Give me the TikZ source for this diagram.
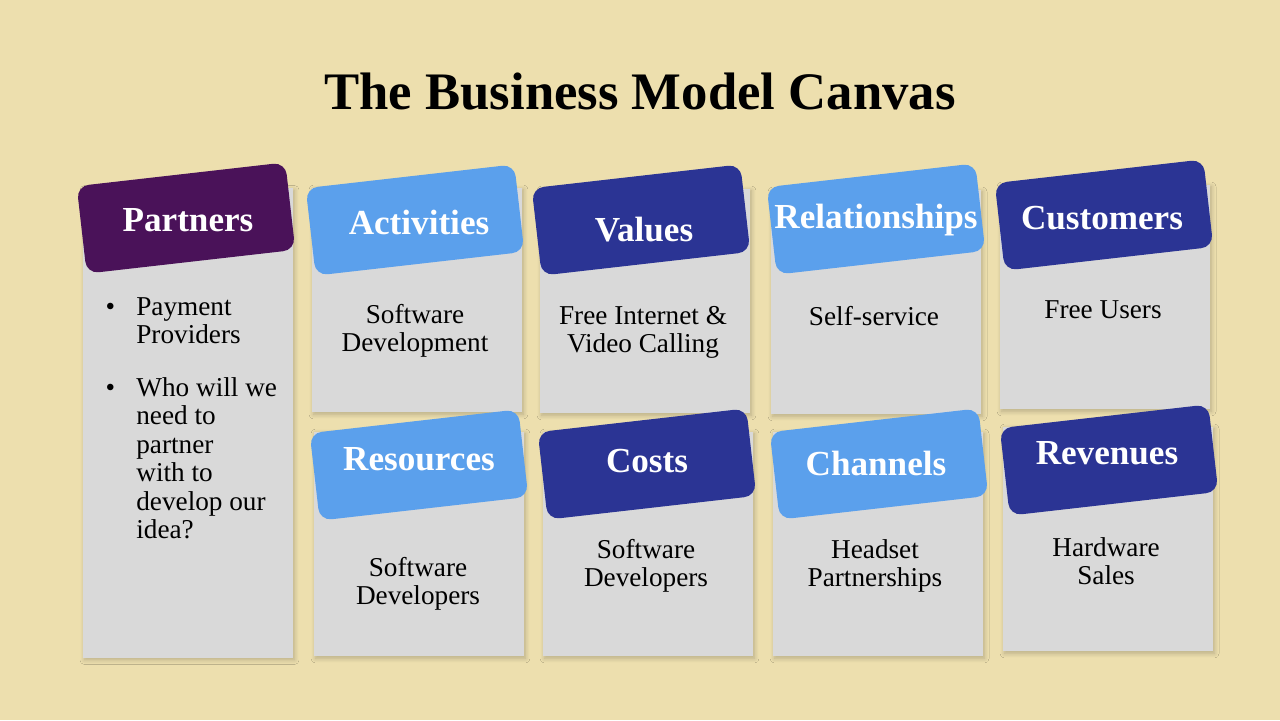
\documentclass[tikz,border=0pt]{standalone}
\usepackage{fontspec}
\setmainfont{Liberation Serif}
\usetikzlibrary{shadows.blur}
\definecolor{canvasbg}{HTML}{EDDFAE}
\definecolor{cardgrey}{HTML}{D9D9D9}
\definecolor{tabpurple}{HTML}{4A1259}
\definecolor{tablight}{HTML}{5BA0EC}
\definecolor{tabdark}{HTML}{2B3494}

\begin{document}
\begin{tikzpicture}[x=0.02cm, y=-0.02cm,
    card/.style={fill=cardgrey, inner sep=0pt, minimum width=4.2cm, minimum height=4.5cm,
      blur shadow={shadow blur steps=10, shadow xshift=0.3mm, shadow yshift=-0.4mm, shadow blur radius=0.9mm, shadow blur extra rounding=0pt, shadow opacity=22}},
    tab/.style={fill=#1, rounded corners=0.24cm, inner sep=0pt, minimum width=4.2cm, minimum height=1.76cm, rotate=6.5},
    tablabel/.style={text=white, font=\fontsize{20}{24}\selectfont\bfseries},
    body/.style={font=\fontsize{15.5}{16}\selectfont, align=center},
    bulletitem/.style={font=\fontsize{15.5}{16.2}\selectfont, align=left, anchor=north west, inner sep=0pt}]
    \fill[canvasbg] (0,0) rectangle (1280,720);
    \useasboundingbox (0,0) rectangle (1280,720);

    \node (title) [font=\fontsize{30}{36}\selectfont\bfseries] at (640,92) {The Business Model Canvas};

    % grey cards
    \node (parcard) [card, minimum height=9.4cm] at (188,423) {};
    \node (actcard) [card] at (417,300) {};
    \node (valcard) [card] at (645,301) {};
    \node (relcard) [card] at (876,302) {};
    \node (cuscard) [card] at (1105,297) {};
    \node (rescard) [card] at (419,544) {};
    \node (coscard) [card] at (648,544) {};
    \node (chacard) [card] at (878,544) {};
    \node (revcard) [card] at (1108,539) {};

    % tilted tabs
    \node (partab) [tab=tabpurple] at (186,218) {};
    \node (acttab) [tab=tablight] at (415,220) {};
    \node (valtab) [tab=tabdark] at (641,220) {};
    \node (reltab) [tab=tablight] at (876,219) {};
    \node (custab) [tab=tabdark] at (1104,215) {};
    \node (restab) [tab=tablight] at (419,465) {};
    \node (costab) [tab=tabdark] at (647,464) {};
    \node (chatab) [tab=tablight] at (879,464) {};
    \node (revtab) [tab=tabdark] at (1109,460) {};

    \node (parlbl) [tablabel] at (188,220) {Partners};
    \node (actlbl) [tablabel] at (419,222) {Activities};
    \node (vallbl) [tablabel] at (644,230) {Values};
    \node (rellbl) [tablabel] at (876,220) {Relationships};
    \node (cuslbl) [tablabel] at (1102,218) {Customers};
    \node (reslbl) [tablabel] at (419,459) {Resources};
    \node (coslbl) [tablabel] at (647,461) {Costs};
    \node (chalbl) [tablabel] at (876,463) {Channels};
    \node (revlbl) [tablabel] at (1107,453) {Revenues};

    % card texts
    \node (paritema) [bulletitem] at (136,297) {\llap{\textbullet\hspace{12pt}}Payment\\Providers};
    \node (paritemb) [bulletitem] at (136,377) {\llap{\textbullet\hspace{12pt}}Who will we\\need to\\partner\\with to\\develop our\\idea?};
    \node (acttxt) [body] at (415,331) {Software\\Development};
    \node (valtxt) [body] at (643,332) {Free Internet \&\\Video Calling};
    \node (reltxt) [body] at (874,316) {Self-service};
    \node (custxt) [body] at (1103,310) {Free Users};
    \node (restxt) [body] at (418,584) {Software\\Developers};
    \node (costxt) [body] at (646,566) {Software\\Developers};
    \node (chatxt) [body] at (875,566) {Headset\\Partnerships};
    \node (revtxt) [body] at (1106,561) {Hardware\\Sales};
\end{tikzpicture}
\end{document}
